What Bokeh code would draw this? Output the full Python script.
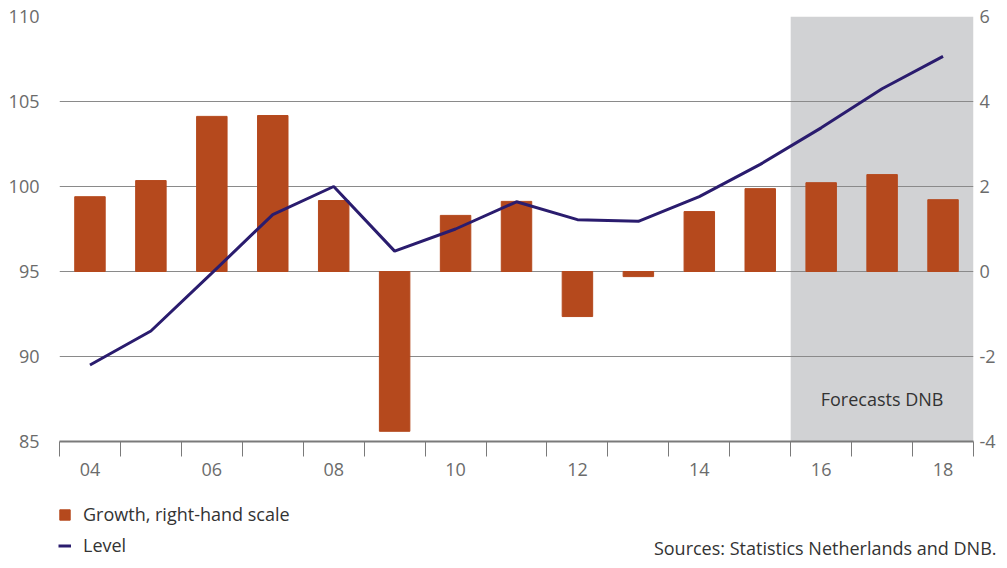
from bokeh.plotting import figure
from bokeh.layouts import column
from bokeh.models import (Range1d, LinearAxis, FixedTicker, BoxAnnotation, Label,
                          Legend, LegendItem, ColumnDataSource)
from bokeh.embed import file_html
from bokeh.resources import INLINE

years = list(range(2004, 2019))
growth = [1.76, 2.14, 3.65, 3.67, 1.67, -3.76, 1.32, 1.65, -1.06, -0.12,
          1.41, 1.95, 2.09, 2.28, 1.69]
level = [89.5, 91.5, 94.9, 98.35, 100.0, 96.2, 97.5, 99.1, 98.05, 97.95,
         99.4, 101.3, 103.45, 105.75, 107.65]
left_ticks = [85, 90, 95, 100, 105, 110]
right_ticks = [-4, -2, 0, 2, 4, 6]
right_labels = ["-4", "-2", "0", "2", "4", "6"]
x_label_years = [2004, 2006, 2008, 2010, 2012, 2014, 2016, 2018]
x_labels = ["04", "06", "08", "10", "12", "14", "16", "18"]
forecast_start, forecast_end = 2015.5, 2018.5

FONT = "Open Sans"
GREY_TXT = "#6b6b6b"
DARK_TXT = "#333333"
BAR = "#b5491d"
LINE = "#2a1c6e"

src = ColumnDataSource(dict(x=years, growth=growth, level=level))

p = figure(width=999, height=500, output_backend="svg", toolbar_location=None,
           x_range=Range1d(2003.5, 2018.5), y_range=Range1d(85, 110),
           min_border_left=59, min_border_right=26, min_border_top=16,
           min_border_bottom=59, y_axis_location=None, x_axis_location=None)
p.frame_align = False
p.outline_line_color = None
p.xgrid.visible = False
p.extra_y_ranges = {"right": Range1d(-4, 6)}

p.ygrid.ticker = FixedTicker(ticks=left_ticks)
p.ygrid.grid_line_color = "#8a8a8a"
p.ygrid.grid_line_width = 1

p.add_layout(BoxAnnotation(left=forecast_start, right=forecast_end,
                           fill_color="#d1d2d4", fill_alpha=1.0,
                           line_color=None, level="image"))

def side_axis(ax, standoff):
    ax.axis_line_color = None
    ax.major_tick_line_color = None
    ax.minor_tick_line_color = None
    ax.major_tick_out = 0
    ax.major_tick_in = 0
    ax.minor_tick_out = 0
    ax.minor_tick_in = 0
    ax.major_label_standoff = standoff
    ax.major_label_text_font = FONT
    ax.major_label_text_font_size = "18px"
    ax.major_label_text_color = GREY_TXT

ly = LinearAxis(ticker=FixedTicker(ticks=left_ticks))
side_axis(ly, 20)
p.add_layout(ly, "left")

ry = LinearAxis(y_range_name="right", ticker=FixedTicker(ticks=right_ticks))
side_axis(ry, 6)
ry.major_label_overrides = {t: l for t, l in zip(right_ticks, right_labels)}
p.add_layout(ry, "right")

bx = LinearAxis(ticker=FixedTicker(ticks=x_label_years,
                                   minor_ticks=[y - 0.5 for y in years] + [years[-1] + 0.5]))
bx.major_label_overrides = {y: l for y, l in zip(x_label_years, x_labels)}
bx.axis_line_color = "#7a7a7a"
bx.axis_line_width = 2
bx.major_tick_line_color = None
bx.major_tick_out = 0
bx.major_tick_in = 0
bx.minor_tick_line_color = "#7a7a7a"
bx.minor_tick_line_width = 1
bx.minor_tick_in = 0
bx.minor_tick_out = 15
bx.major_label_standoff = 6
bx.major_label_text_font = FONT
bx.major_label_text_font_size = "18px"
bx.major_label_text_color = GREY_TXT
p.add_layout(bx, "below")

bars = p.vbar(x="x", top="growth", bottom=0, width=0.5, source=src,
              y_range_name="right", fill_color=BAR, line_color=BAR)
ln = p.line(x="x", y="level", source=src, line_color=LINE, line_width=3)

p.add_layout(Label(x=2017, y=-3, y_range_name="right", text="Forecasts DNB",
                   text_align="center", text_baseline="middle",
                   text_font=FONT, text_font_size="18px", text_color=DARK_TXT))

# footer: legend and source note
f = figure(width=999, height=60, output_backend="svg", toolbar_location=None,
           x_range=Range1d(0, 1), y_range=Range1d(0, 1),
           min_border=0, x_axis_location=None, y_axis_location=None)
f.frame_align = False
f.outline_line_color = None
f.grid.visible = False
nan = float("nan")
leg_bar = f.vbar(x=[nan], top=[nan], width=0.5, fill_color=BAR, line_color=BAR)
leg_line = f.line(x=[nan], y=[nan], line_color=LINE, line_width=3)

legend = Legend(items=[LegendItem(label="Growth, right-hand scale", renderers=[leg_bar]),
                       LegendItem(label="Level", renderers=[leg_line])],
                location=(58, 3), orientation="vertical",
                padding=0, margin=0, spacing=7, label_height=20,
                glyph_width=13, glyph_height=13, label_standoff=12,
                border_line_color=None, background_fill_alpha=0,
                label_text_font=FONT, label_text_font_size="18px",
                label_text_color=DARK_TXT)
f.add_layout(legend, "center")

f.add_layout(Label(x=996, y=13, x_units="screen", y_units="screen",
                   text="Sources: Statistics Netherlands and DNB.",
                   text_align="right", text_baseline="middle",
                   text_font=FONT, text_font_size="18px", text_color=DARK_TXT))

layout = column(p, f, spacing=0)
open("out.html", "w").write(file_html(layout, INLINE))
